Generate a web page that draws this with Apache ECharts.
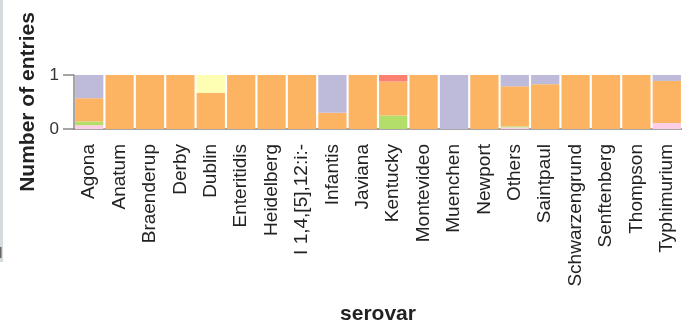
<!DOCTYPE html>
<html>
<head>
<meta charset="utf-8">
<script src="https://cdn.jsdelivr.net/npm/echarts@6/dist/echarts.min.js"></script>
<style>
  html, body { margin: 0; padding: 0; background: #fff; }
  #chart { width: 682px; height: 327px; }
</style>
</head>
<body>
<div id="chart"></div>
<script>
// Serovar categories along the x axis
const serovars = ['Agona', 'Anatum', 'Braenderup', 'Derby', 'Dublin', 'Enteritidis',
  'Heidelberg', 'I 1,4,[5],12:i:-', 'Infantis', 'Javiana', 'Kentucky', 'Montevideo',
  'Muenchen', 'Newport', 'Others', 'Saintpaul', 'Schwarzengrund', 'Senftenberg',
  'Thompson', 'Typhimurium'];

// Share of entries per serovar for each stacked group (bottom to top)
const pinkGroup     = [0.07, 0, 0, 0, 0, 0, 0, 0, 0, 0, 0, 0, 0, 0, 0.03, 0, 0, 0, 0, 0.11];
const greenGroup    = [0.07, 0, 0, 0, 0, 0, 0, 0, 0, 0, 0.25, 0, 0, 0, 0.02, 0, 0, 0, 0, 0];
const orangeGroup   = [0.43, 1, 1, 1, 0.67, 1, 1, 1, 0.30, 1, 0.63, 1, 0, 1, 0.74, 0.83, 1, 1, 1, 0.78];
const redGroup      = [0, 0, 0, 0, 0, 0, 0, 0, 0, 0, 0.12, 0, 0, 0, 0, 0, 0, 0, 0, 0];
const lavenderGroup = [0.43, 0, 0, 0, 0, 0, 0, 0, 0.70, 0, 0, 0, 1, 0, 0.21, 0.17, 0, 0, 0, 0.11];
const yellowGroup   = [0, 0, 0, 0, 0.33, 0, 0, 0, 0, 0, 0, 0, 0, 0, 0, 0, 0, 0, 0, 0];

// Y axis tick values
const yTicks = [0, 1];

const groups = [
  { name: 'pink', data: pinkGroup, color: '#fccde5' },
  { name: 'green', data: greenGroup, color: '#b3de69' },
  { name: 'orange', data: orangeGroup, color: '#fdb462' },
  { name: 'red', data: redGroup, color: '#fb8072' },
  { name: 'lavender', data: lavenderGroup, color: '#bebada' },
  { name: 'yellow', data: yellowGroup, color: '#ffffb3' }
];

const font = 'Liberation Sans, Arial, sans-serif';
const chart = echarts.init(document.getElementById('chart'), null, { renderer: 'canvas' });

chart.setOption({
  animation: false,
  backgroundColor: '#fff',
  grid: { left: 74, top: 75, width: 608, height: 54, containLabel: false },
  xAxis: {
    type: 'category',
    data: serovars,
    name: 'serovar',
    nameLocation: 'middle',
    nameGap: 175,
    nameTextStyle: { fontFamily: font, fontSize: 21, fontWeight: 'bold', color: '#222', verticalAlign: 'top' },
    axisLine: { lineStyle: { color: '#888', width: 1.5 } },
    axisTick: { alignWithLabel: true, length: 10, lineStyle: { color: '#888', width: 1.5 } },
    axisLabel: {
      rotate: 90, interval: 0, margin: 15,
      fontFamily: font, fontSize: 19, color: '#222'
    }
  },
  yAxis: {
    type: 'value',
    min: yTicks[0],
    max: yTicks[yTicks.length - 1],
    interval: 1,
    name: 'Number of entries',
    nameLocation: 'middle',
    nameRotate: 90,
    nameGap: 33,
    nameTextStyle: { fontFamily: font, fontSize: 21, fontWeight: 'bold', color: '#222' },
    axisLine: { show: true, lineStyle: { color: '#888', width: 1.5 } },
    axisTick: { show: true, length: 11, lineStyle: { color: '#888', width: 1.5 } },
    axisLabel: { fontFamily: font, fontSize: 17, color: '#333', margin: 15 },
    splitLine: { show: false }
  },
  series: groups.map(g => ({
    name: g.name,
    type: 'bar',
    stack: 'share',
    data: g.data,
    barCategoryGap: '7%',
    itemStyle: { color: g.color },
    emphasis: { disabled: true }
  })),
  graphic: [
    { type: 'rect', left: 0, top: 0, shape: { width: 3, height: 262 }, style: { fill: '#d6dbde' }, silent: true },
    { type: 'rect', left: 0, top: 247, shape: { width: 1.5, height: 11 }, style: { fill: '#666' }, silent: true }
  ]
});
</script>
</body>
</html>
